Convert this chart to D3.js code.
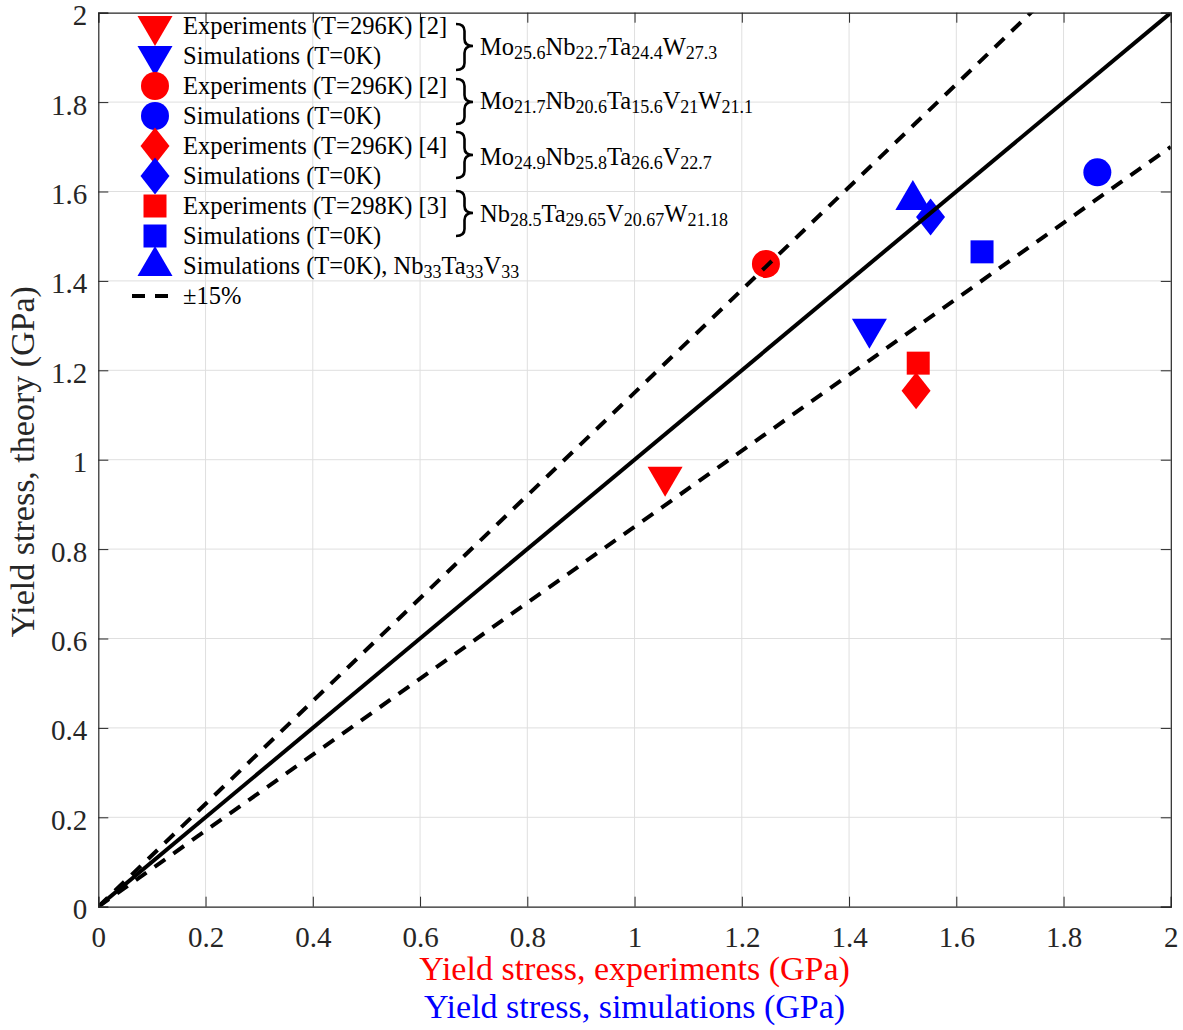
<!DOCTYPE html>
<html>
<head>
<meta charset="utf-8">
<script src="https://cdn.jsdelivr.net/npm/d3@7"></script>
<style>
  body { margin: 0; background: #fff; }
  svg { display: block; font-family: "Liberation Serif", "Times New Roman", serif; }
</style>
</head>
<body>
<div id="chart"></div>
<script>
// Data =========================

// experiments (red) and simulations (blue), one entry per alloy
let expShapes = ["triangleDown", "circle", "diamond", "square"];
let expX = [1.057, 1.245, 1.525, 1.529];
let expY = [0.962, 1.438, 1.154, 1.216];

let simShapes = ["triangleDown", "circle", "diamond", "square", "triangleUp"];
let simX = [1.438, 1.863, 1.552, 1.648, 1.519];
let simY = [1.293, 1.643, 1.543, 1.465, 1.581];

// reference lines: y = k * x
let lineSlopes = [1, 1.15, 0.85];
let lineDashed = [false, true, true];

let tickValues = [0, 0.2, 0.4, 0.6, 0.8, 1, 1.2, 1.4, 1.6, 1.8, 2];

let legendShapes = ["triangleDown", "triangleDown", "circle", "circle", "diamond", "diamond", "square", "square", "triangleUp", "dash"];
let legendColors = ["red", "blue", "red", "blue", "red", "blue", "red", "blue", "blue", "black"];
let legendTexts = [
  "Experiments (T=296K) [2]", "Simulations (T=0K)",
  "Experiments (T=296K) [2]", "Simulations (T=0K)",
  "Experiments (T=296K) [4]", "Simulations (T=0K)",
  "Experiments (T=298K) [3]", "Simulations (T=0K)",
  "Simulations (T=0K), ", "\u00b115%"
];
let row9Formula = [["Nb", "33"], ["Ta", "33"], ["V", "33"]];

let formulas = [
  [["Mo", "25.6"], ["Nb", "22.7"], ["Ta", "24.4"], ["W", "27.3"]],
  [["Mo", "21.7"], ["Nb", "20.6"], ["Ta", "15.6"], ["V", "21"], ["W", "21.1"]],
  [["Mo", "24.9"], ["Nb", "25.8"], ["Ta", "26.6"], ["V", "22.7"]],
  [["Nb", "28.5"], ["Ta", "29.65"], ["V", "20.67"], ["W", "21.18"]]
];

// Layout =========================

let svgWidth = 1183;
let svgHeight = 1030;
let x0 = 98.3, x1 = 1170.8, yTop = 12.7, yBot = 906.7;

let svg = d3.select("#chart").append("svg").attr("width", svgWidth).attr("height", svgHeight);
svg.append("rect").attr("width", svgWidth).attr("height", svgHeight).attr("fill", "#fff");

let xScale = d3.scaleLinear().domain([0, 2]).range([x0, x1]);
let yScale = d3.scaleLinear().domain([0, 2]).range([yBot, yTop]);

let markerPath = shape => {
  if (shape == "circle") return d3.symbol(d3.symbolCircle, Math.PI * 14 * 14)();
  if (shape == "square") return "M-11.5,-11.5L11.5,-11.5L11.5,11.5L-11.5,11.5Z";
  if (shape == "diamond") return "M0,-18.5L14.5,0L0,18.5L-14.5,0Z";
  if (shape == "triangleDown") return "M-17.5,-10L17.5,-10L0,20Z";
  return "M-17.5,10L17.5,10L0,-20Z";
};

// Grid =========================

svg.append("g").selectAll("line").data(tickValues.slice(1, -1)).enter().append("line")
  .attr("x1", d => xScale(d)).attr("x2", d => xScale(d))
  .attr("y1", yTop).attr("y2", yBot)
  .attr("stroke", "#dfdfdf").attr("stroke-width", 1);
svg.append("g").selectAll("line").data(tickValues.slice(1, -1)).enter().append("line")
  .attr("y1", d => yScale(d)).attr("y2", d => yScale(d))
  .attr("x1", x0).attr("x2", x1)
  .attr("stroke", "#dfdfdf").attr("stroke-width", 1);

// Markers =========================

svg.append("clipPath").attr("id", "plotclip").append("rect")
  .attr("x", x0).attr("y", yTop).attr("width", x1 - x0).attr("height", yBot - yTop);

let points = expX.map((v, i) => ({ x: v, y: expY[i], shape: expShapes[i], color: "red" }))
  .concat(simX.map((v, i) => ({ x: v, y: simY[i], shape: simShapes[i], color: "blue" })));

svg.append("g").selectAll("path").data(points).enter().append("path")
  .attr("transform", d => `translate(${xScale(d.x)},${yScale(d.y)})`)
  .attr("d", d => markerPath(d.shape))
  .attr("fill", d => d.color);

// Reference lines =========================

let lineGen = d3.line().x(d => xScale(d[0])).y(d => yScale(d[1]));
svg.append("g").attr("clip-path", "url(#plotclip)").selectAll("path")
  .data(lineSlopes).enter().append("path")
  .attr("d", k => lineGen([[0, 0], [2, 2 * k]]))
  .attr("fill", "none")
  .attr("stroke", "#000")
  .attr("stroke-width", 4)
  .attr("stroke-dasharray", (k, i) => lineDashed[i] ? "13,10" : null);

// Axes =========================

let fmt = d => String(+d.toFixed(1));

let xAxis = svg.append("g").attr("transform", `translate(0,${yBot})`)
  .call(d3.axisBottom(xScale).tickValues(tickValues).tickFormat(fmt).tickSize(-10).tickPadding(19.5));
let xAxisTop = svg.append("g").attr("transform", `translate(0,${yTop})`)
  .call(d3.axisTop(xScale).tickValues(tickValues).tickFormat("").tickSize(-10));
let yAxis = svg.append("g").attr("transform", `translate(${x0},0)`)
  .call(d3.axisLeft(yScale).tickValues(tickValues).tickFormat(fmt).tickSize(-10).tickPadding(11));
let yAxisRight = svg.append("g").attr("transform", `translate(${x1},0)`)
  .call(d3.axisRight(yScale).tickValues(tickValues).tickFormat("").tickSize(-10));

[xAxis, xAxisTop, yAxis, yAxisRight].forEach(a => {
  a.select(".domain").attr("stroke", "#262626").attr("stroke-width", 1.2);
  a.selectAll(".tick line").attr("stroke", "#262626").attr("stroke-width", 1);
  a.selectAll("text").attr("fill", "#262626").attr("font-size", 29).attr("font-family", "Liberation Serif");
});
xAxisTop.selectAll(".tick text").remove();
yAxisRight.selectAll(".tick text").remove();
yAxis.selectAll(".tick text").attr("dy", 12);

// Axis labels =========================

svg.append("text").attr("x", (x0 + x1) / 2).attr("y", 980)
  .attr("text-anchor", "middle").attr("font-size", 34).attr("fill", "#ff0000")
  .text("Yield stress, experiments (GPa)");
svg.append("text").attr("x", (x0 + x1) / 2).attr("y", 1018)
  .attr("text-anchor", "middle").attr("font-size", 34).attr("fill", "#0000ff")
  .text("Yield stress, simulations (GPa)");
svg.append("text").attr("transform", `translate(34,${(yTop + yBot) / 2 + 2}) rotate(-90)`)
  .attr("text-anchor", "middle").attr("font-size", 34).attr("fill", "#262626")
  .text("Yield stress, theory (GPa)");

// Legend =========================

function appendFormula(textSel, parts) {
  parts.forEach((p, j) => {
    textSel.append("tspan").attr("font-size", 24.5).attr("dy", j == 0 ? 0 : -4).text(p[0]);
    textSel.append("tspan").attr("font-size", 18).attr("dy", 4).text(p[1]);
  });
}

let legend = svg.append("g");
let rowY = i => 26 + i * 30;

legendShapes.forEach((shape, i) => {
  if (shape == "dash") {
    legend.append("line")
      .attr("x1", 132).attr("x2", 168).attr("y1", rowY(i)).attr("y2", rowY(i))
      .attr("stroke", "#000").attr("stroke-width", 4).attr("stroke-dasharray", "13,10");
  } else {
    legend.append("path")
      .attr("transform", `translate(155,${rowY(i)})`)
      .attr("d", markerPath(shape))
      .attr("fill", legendColors[i]);
  }
  let t = legend.append("text").attr("x", 183).attr("y", rowY(i) + 8)
    .attr("font-size", 24.5).attr("fill", "#000");
  t.append("tspan").text(legendTexts[i]);
  if (i == 8) appendFormula(t, row9Formula);
});

// braces grouping experiment/simulation pairs
let braces = [[24, 46, 70, 55], [79, 102, 124, 109], [132, 155, 178, 165], [191, 213, 236, 222]];
let braceW = 17, braceX = 456, r = 7;
braces.forEach((b, i) => {
  let [ya, ym, yb, base] = b;
  let xm = braceX + braceW / 2;
  let d = `M${braceX},${ya} Q${xm},${ya} ${xm},${ya + r} L${xm},${ym - r} Q${xm},${ym} ${braceX + braceW},${ym}` +
    ` Q${xm},${ym} ${xm},${ym + r} L${xm},${yb - r} Q${xm},${yb} ${braceX},${yb}`;
  legend.append("path").attr("d", d).attr("fill", "none").attr("stroke", "#000").attr("stroke-width", 2.6);
  let t = legend.append("text").attr("x", 480).attr("y", base).attr("font-size", 24.5).attr("fill", "#000");
  appendFormula(t, formulas[i]);
});
</script>
</body>
</html>
